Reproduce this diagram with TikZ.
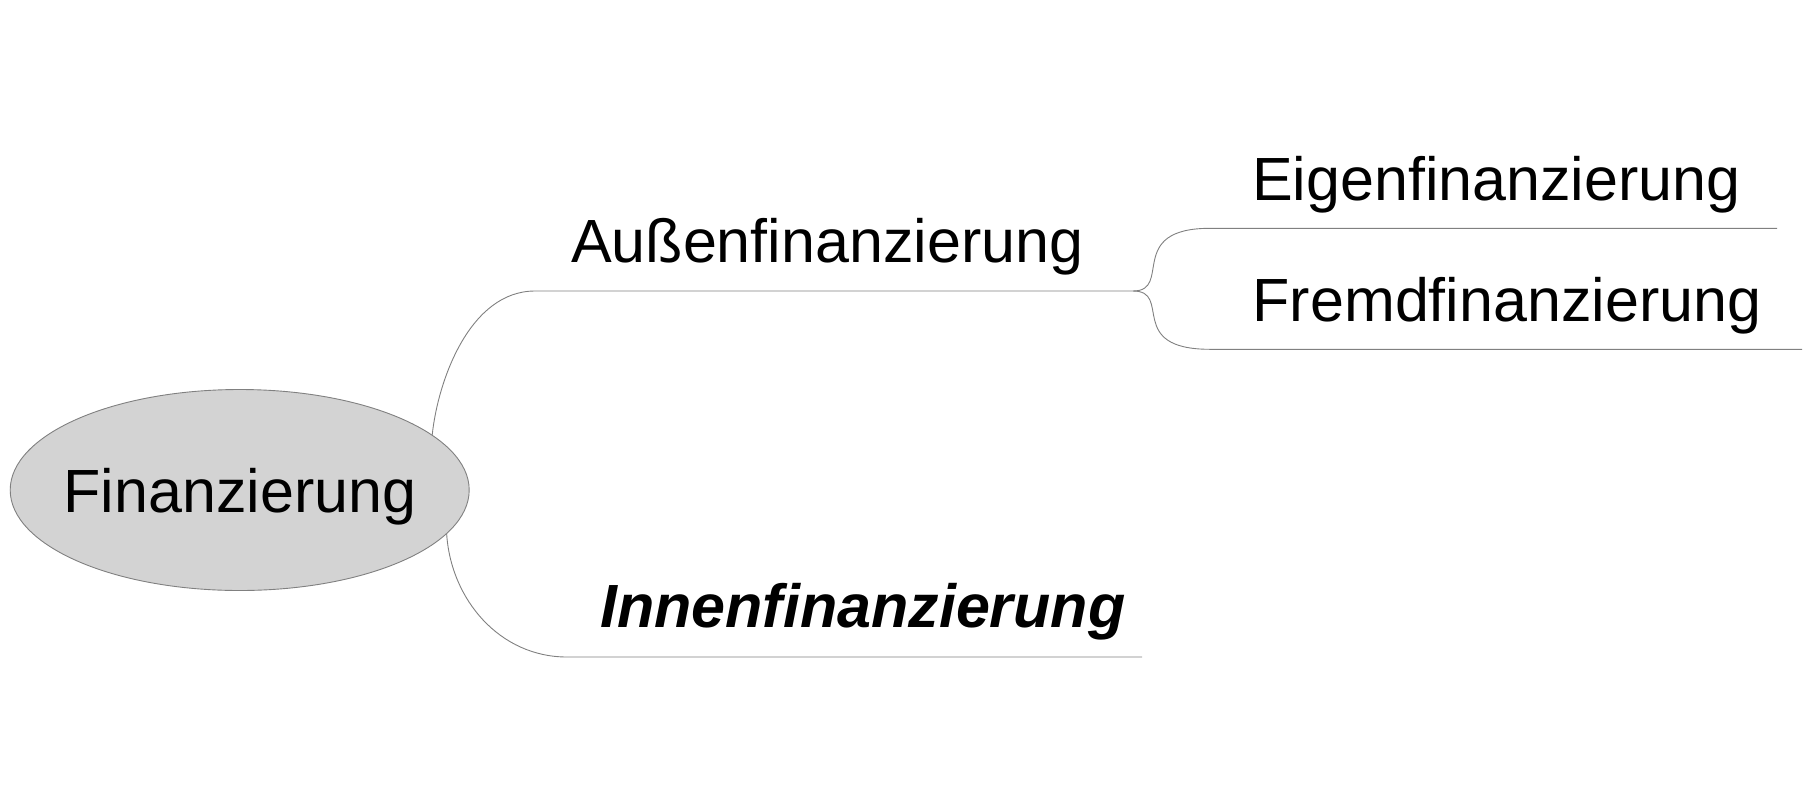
\documentclass[tikz,border=0pt]{standalone}
\usepackage{fontspec}
\setmainfont{Liberation Sans}
\usetikzlibrary{shapes.geometric}
\definecolor{rootfill}{RGB}{211,211,211}
\definecolor{linegray}{RGB}{128,128,128}
\tikzset{
  lbl/.style={anchor=base west, inner sep=0pt, font=\fontsize{61}{73}\selectfont},
  conn/.style={draw=linegray, line width=0.9pt},
  rootnode/.style={ellipse, draw=linegray, line width=0.9pt, fill=rootfill,
    minimum width=459pt, minimum height=201pt, inner sep=0pt}
}
\begin{document}
\begin{tikzpicture}[x=1pt,y=1pt]
\useasboundingbox (0,0) rectangle (1818,-788);
% root
\node[rootnode] (root) at (239.7,-490) {};
\node[lbl] (roottxt) at (63.5,-512) {Finanzierung};
% level 1
\node[lbl] (aussen) at (571,-262) {Außenfinanzierung};
\node[lbl] (innen) at (600,-627) {\bfseries\itshape Innenfinanzierung};
\coordinate (aL) at (535,-291);
\coordinate (aR) at (1133,-291);
\coordinate (iL) at (567,-657);
\coordinate (iR) at (1142,-657);
% level 2
\node[lbl] (eigen) at (1252,-200) {Eigenfinanzierung};
\node[lbl] (fremd) at (1252.5,-321) {Fremdfinanzierung};
\coordinate (eL) at (1210,-228.3);
\coordinate (eR) at (1777,-228.3);
\coordinate (fL) at (1210,-349.3);
\coordinate (fR) at (1802,-349.3);
% connectors
\draw[conn] (root.16.5) .. controls (438,-380) and (470,-291) .. (aL) -- (aR);
\draw[conn] (root.-12.4) .. controls (451,-600) and (500,-657) .. (iL) -- (iR);
\draw[conn] (aR) .. controls +(40,0) and +(-85,0) .. (eL) -- (eR);
\draw[conn] (aR) .. controls +(40,0) and +(-85,0) .. (fL) -- (fR);
\end{tikzpicture}
\end{document}
